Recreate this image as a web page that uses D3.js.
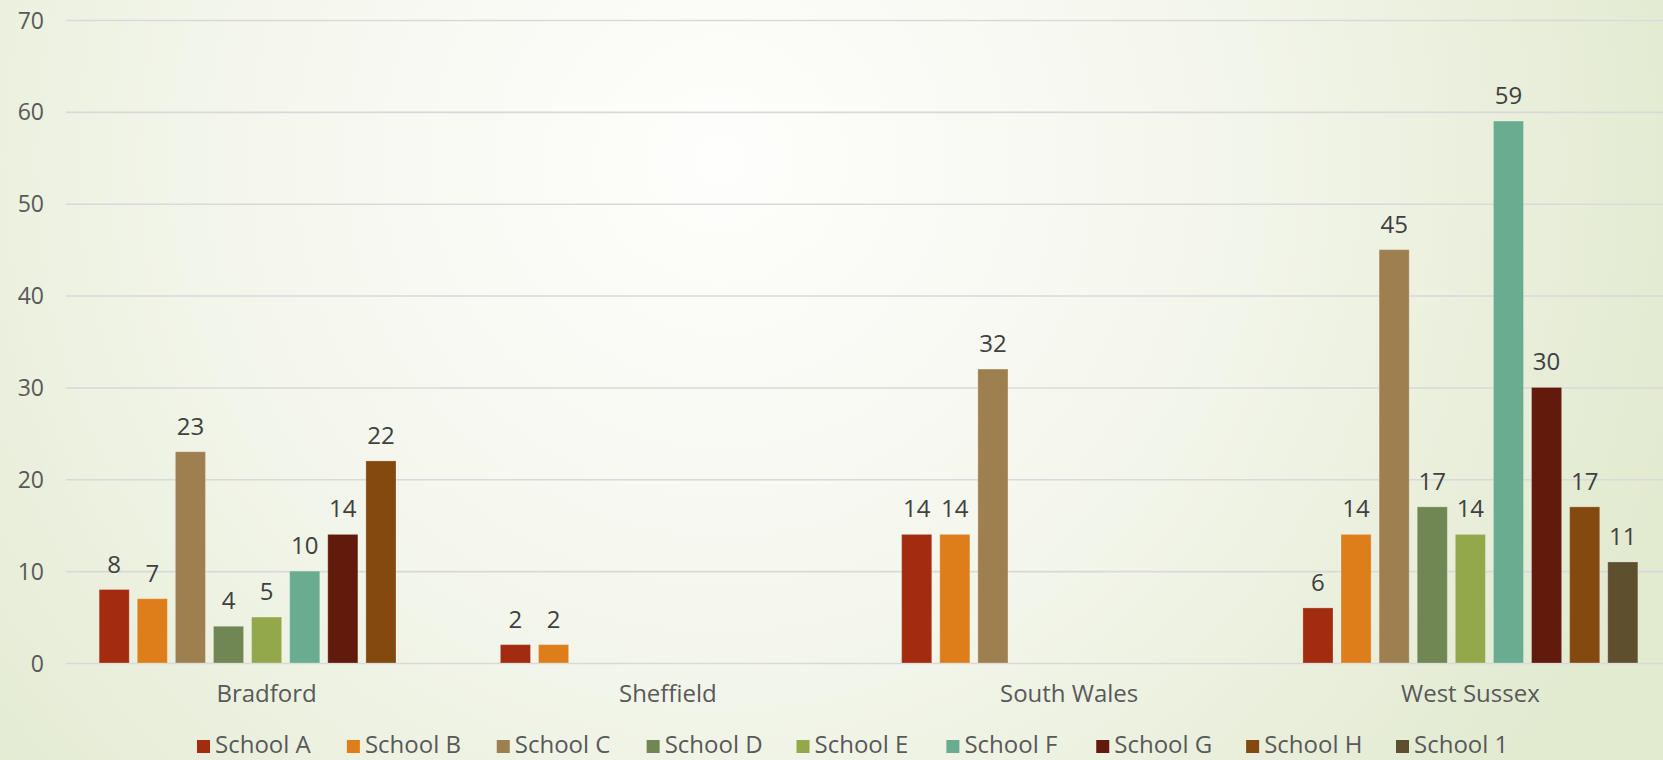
<!DOCTYPE html>
<html>
<head>
<meta charset="utf-8">
<script src="https://cdn.jsdelivr.net/npm/d3@7"></script>
<style>
  html, body { margin: 0; padding: 0; overflow: hidden; }
  svg { display: block; }
</style>
</head>
<body>
<div id="container"></div>
<script>
const categories = ["Bradford", "Sheffield", "South Wales", "West Sussex"];
const seriesNames = ["School A", "School B", "School C", "School D", "School E", "School F", "School G", "School H", "School 1"];
const seriesColors = ["#a32b10", "#dd7e1a", "#9e8050", "#718753", "#93a84a", "#69ac90", "#621a0c", "#83490f", "#5e4f2f"];
// one array per school, a value for each location (null = no bar)
const schoolA = [8, 2, 14, 6];
const schoolB = [7, 2, 14, 14];
const schoolC = [23, null, 32, 45];
const schoolD = [4, null, null, 17];
const schoolE = [5, null, null, 14];
const schoolF = [10, null, null, 59];
const schoolG = [14, null, null, 30];
const schoolH = [22, null, null, 17];
const school1 = [null, null, null, 11];
const yTicks = [0, 10, 20, 30, 40, 50, 60, 70];

const values = [schoolA, schoolB, schoolC, schoolD, schoolE, schoolF, schoolG, schoolH, school1];

const width = 1663, height = 760;
const margin = { top: 20, left: 66, bottom: 97 };
const plotRight = 1671;

const svg = d3.create("svg")
    .attr("width", width)
    .attr("height", height)
    .style("font-family", "'Open Sans', sans-serif");

document.getElementById("container").append(svg.node());

// background
const defs = svg.append("defs");
const grad = defs.append("radialGradient")
    .attr("id", "bg")
    .attr("gradientUnits", "userSpaceOnUse")
    .attr("cx", 720).attr("cy", 160).attr("r", 1000);
grad.append("stop").attr("offset", "0").attr("stop-color", "#fefefc");
grad.append("stop").attr("offset", "0.45").attr("stop-color", "#f5f7ee");
grad.append("stop").attr("offset", "1").attr("stop-color", "#e2ead0");
svg.append("rect").attr("width", width).attr("height", height).attr("fill", "url(#bg)");

const x0 = d3.scaleBand()
    .domain(categories)
    .range([margin.left, plotRight]);

const x1 = d3.scaleBand()
    .domain(seriesNames)
    .range([0, x0.bandwidth()])
    .paddingInner(0.21)
    .paddingOuter(0.87);

const y = d3.scaleLinear()
    .domain([0, 70])
    .range([height - margin.bottom, margin.top]);

// gridlines + y labels
const yAxis = svg.append("g")
    .call(d3.axisLeft(y).tickValues(yTicks).tickSize(0).tickPadding(0))
    .attr("transform", `translate(${margin.left},0)`);
yAxis.select(".domain").remove();
yAxis.selectAll(".tick line")
    .attr("x2", plotRight - margin.left)
    .attr("stroke", "#d9d9d9")
    .attr("stroke-width", 1.6);
yAxis.selectAll(".tick text")
    .attr("x", -22)
    .attr("dy", "0.35em")
    .attr("fill", "#595959")
    .style("font-size", "23px")
    .style("font-family", "'Open Sans', sans-serif");

// bars
const rows = [];
categories.forEach((c, ci) => {
    seriesNames.forEach((s, si) => {
        const v = values[si][ci];
        if (v != null) rows.push({ cat: c, series: s, si, value: v });
    });
});

const groups = svg.append("g");
groups.selectAll("rect")
    .data(rows)
    .join("rect")
    .attr("x", d => x0(d.cat) + x1(d.series))
    .attr("y", d => y(d.value))
    .attr("width", x1.bandwidth())
    .attr("height", d => y(0) - y(d.value))
    .attr("fill", d => seriesColors[d.si])
    .attr("stroke", "#ffffff")
    .attr("stroke-opacity", 0.25)
    .attr("stroke-width", 1);

groups.selectAll("text")
    .data(rows)
    .join("text")
    .attr("x", d => x0(d.cat) + x1(d.series) + x1.bandwidth() / 2)
    .attr("y", d => y(d.value) - 17)
    .attr("text-anchor", "middle")
    .attr("fill", "#404040")
    .style("font-size", "24px")
    .text(d => d.value);

// category labels
const xAxis = svg.append("g")
    .attr("transform", `translate(0,${y(0)})`)
    .call(d3.axisBottom(x0).tickSize(0).tickPadding(0));
xAxis.select(".domain").remove();
xAxis.selectAll(".tick text")
    .attr("y", 39)
    .attr("dy", 0)
    .attr("fill", "#595959")
    .style("font-size", "24px")
    .style("font-family", "'Open Sans', sans-serif");

// legend
const legendX = d3.scalePoint()
    .domain(seriesNames)
    .range([197, 1396]);

const items = svg.append("g")
    .attr("transform", "translate(0,753)")
    .selectAll("g")
    .data(seriesNames)
    .join("g")
    .attr("transform", d => `translate(${legendX(d)},0)`);
items.append("rect")
    .attr("width", 13).attr("height", 13)
    .attr("y", -13)
    .attr("fill", (d, i) => seriesColors[i]);
items.append("text")
    .attr("x", 18)
    .attr("fill", "#595959")
    .style("font-size", "24px")
    .text(d => d);
</script>
</body>
</html>
